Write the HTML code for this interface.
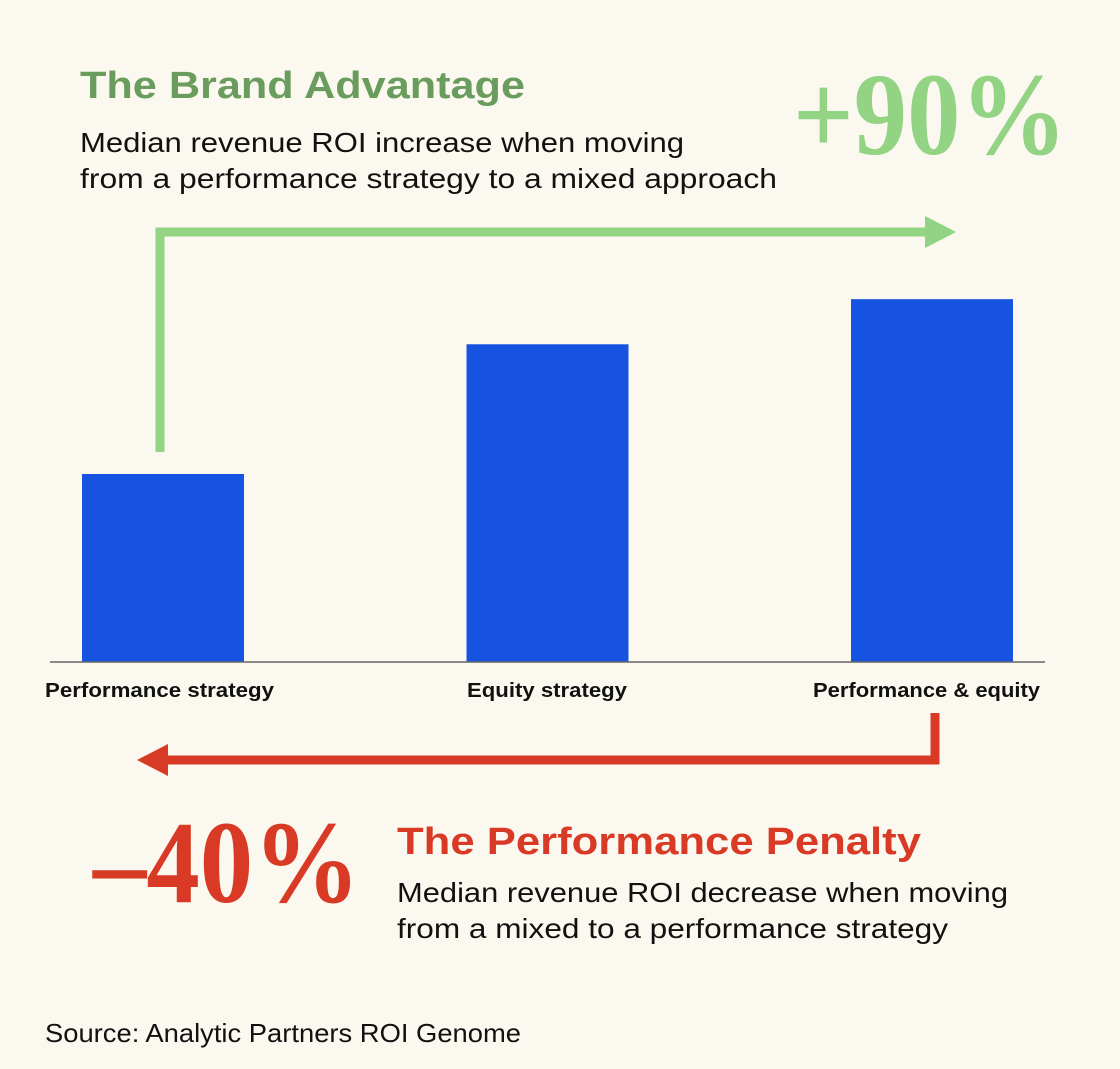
<!DOCTYPE html>
<html><head><meta charset="utf-8"><style>
html,body{margin:0;padding:0;background:#fbf9ef;}
svg{display:block;}
.sans{font-family:"Liberation Sans",sans-serif;}
.serif{font-family:"Liberation Serif",serif;}
</style></head><body>
<svg width="1120" height="1069" viewBox="0 0 1120 1069">
<rect width="1120" height="1069" fill="#fbf9ef"/>
<text x="80" y="98" class="sans" font-weight="bold" font-size="38" fill="#6a9c5e" textLength="445" lengthAdjust="spacingAndGlyphs">The Brand Advantage</text>
<text x="80" y="152" class="sans" font-size="28" fill="#111" textLength="604" lengthAdjust="spacingAndGlyphs">Median revenue ROI increase when moving</text>
<text x="80" y="188" class="sans" font-size="28" fill="#111" textLength="697" lengthAdjust="spacingAndGlyphs">from a performance strategy to a mixed approach</text>
<text x="793" y="154" class="serif" font-weight="bold" font-size="118" fill="#92d384" textLength="274" lengthAdjust="spacingAndGlyphs">+90%</text>
<g>
<polyline points="160,452 160,232 928,232" fill="none" stroke="#92d384" stroke-width="9"/>
<polygon points="925,216 956,232 925,248" fill="#92d384"/>
</g>
<g id="bars"></g>
<line x1="50" y1="662" x2="1045" y2="662" stroke="#666" stroke-width="1.5"/>
<g id="labels"></g>
<g>
<polyline points="935,713 935,760 165,760" fill="none" stroke="#d93a26" stroke-width="9"/>
<polygon points="168,744 137,760 168,776" fill="#d93a26"/>
</g>
<text x="93" y="902" class="serif" font-weight="bold" font-size="118" fill="#d93a26" textLength="267" lengthAdjust="spacingAndGlyphs">–40%</text>
<text x="397" y="854" class="sans" font-weight="bold" font-size="38" fill="#d93a26" textLength="524" lengthAdjust="spacingAndGlyphs">The Performance Penalty</text>
<text x="397" y="902" class="sans" font-size="28" fill="#111" textLength="611" lengthAdjust="spacingAndGlyphs">Median revenue ROI decrease when moving</text>
<text x="397" y="938" class="sans" font-size="28" fill="#111" textLength="551" lengthAdjust="spacingAndGlyphs">from a mixed to a performance strategy</text>
<text x="45" y="1042" class="sans" font-size="26" fill="#111" textLength="476" lengthAdjust="spacingAndGlyphs">Source: Analytic Partners ROI Genome</text>
</svg>
<script>
const categories = ["Performance strategy","Equity strategy","Performance & equity"];
const values = [1.0, 1.69, 1.93];
const labelWidths = [229, 160, 227];
const NS="http://www.w3.org/2000/svg";
const baseY=662, pxPerUnit=188, barW=162, x0=82, step=384.5;
function xScale(i){return x0+i*step;}
function yScale(v){return baseY-v*pxPerUnit;}
const bars=document.getElementById('bars'), labels=document.getElementById('labels');
const labelCenters=[159.5,547,926.5];
values.forEach((v,i)=>{
  const r=document.createElementNS(NS,'rect');
  r.setAttribute('x',xScale(i));r.setAttribute('y',yScale(v));
  r.setAttribute('width',barW);r.setAttribute('height',baseY-yScale(v));
  r.setAttribute('fill','#1553e0');
  
  
  bars.appendChild(r);
  const t=document.createElementNS(NS,'text');
  t.setAttribute('x',labelCenters[i]);t.setAttribute('y',697);
  t.setAttribute('text-anchor','middle');t.setAttribute('class','sans');
  t.setAttribute('font-weight','bold');t.setAttribute('font-size','20');t.setAttribute('fill','#111');
  t.setAttribute('textLength',labelWidths[i]);t.setAttribute('lengthAdjust','spacingAndGlyphs');
  t.textContent=categories[i];
  
  
  labels.appendChild(t);
});
</script>
</body></html>
